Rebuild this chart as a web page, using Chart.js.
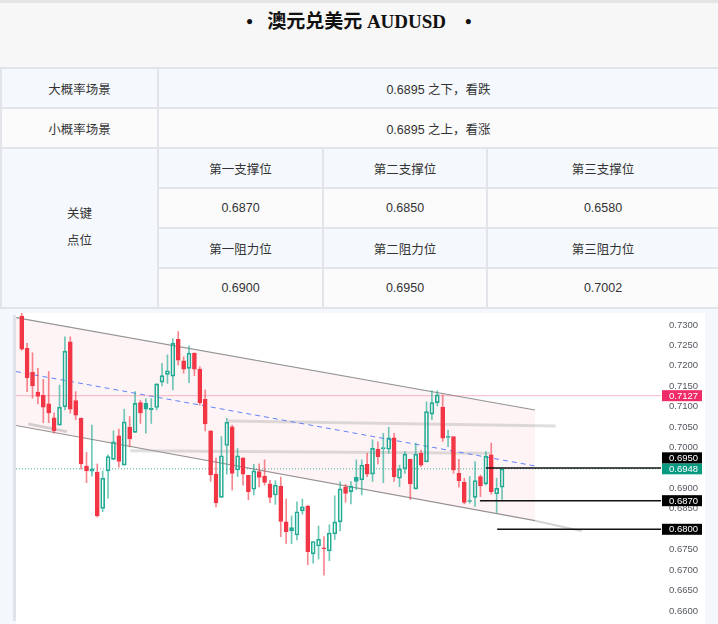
<!DOCTYPE html>
<html>
<head>
<meta charset="utf-8">
<script src="https://cdn.jsdelivr.net/npm/chart.js@4.4.1/dist/chart.umd.min.js"></script>
<style>
html,body{margin:0;padding:0;}
body{width:718px;height:624px;position:relative;overflow:hidden;background:#fff;font-family:"Liberation Sans","Noto Sans CJK SC",sans-serif;color:#333;}
.cell{position:absolute;box-sizing:border-box;display:flex;align-items:center;justify-content:center;text-align:center;font-size:12.5px;border-top:2px solid #e1e5ea;border-left:2px solid #e1e5ea;}
.hd{background:#f5f9fd;}
.lt{background:#fbfbfc;}
#title{position:absolute;left:0;top:0;width:718px;height:67px;background:#f7f7f7;border-top:3px solid #e4e4e4;box-sizing:border-box;text-align:center;font:bold 19px "Liberation Serif","Noto Sans CJK SC",serif;color:#111;padding-top:7px;line-height:24px;white-space:pre;}
#chartbox{position:absolute;left:0;top:307px;width:718px;height:317px;background:#f4f7fb;border-top:2px solid #e1e5ea;box-sizing:border-box;}
#plotbg{position:absolute;left:16px;top:313px;width:689px;height:311px;background:#fff;}
#leftbar{position:absolute;left:13px;top:315px;width:3px;height:306px;background:#e0e3ea;}
#chart{position:absolute;left:16px;top:313px;}
</style>
</head>
<body>
<div id="title">•   澳元兑美元 AUDUSD    •</div>

<div class="cell hd" style="left:0;top:67px;width:157px;height:40px;">大概率场景</div>
<div class="cell hd" style="left:157px;top:67px;width:561px;height:40px;">0.6895 之下，看跌</div>
<div class="cell lt" style="left:0;top:107px;width:157px;height:40px;">小概率场景</div>
<div class="cell lt" style="left:157px;top:107px;width:561px;height:40px;">0.6895 之上，看涨</div>

<div class="cell hd" style="left:0;top:147px;width:157px;height:160px;line-height:27px;">关键<br>点位</div>
<div class="cell hd" style="left:157px;top:147px;width:165px;height:40px;">第一支撑位</div>
<div class="cell hd" style="left:322px;top:147px;width:164px;height:40px;">第二支撑位</div>
<div class="cell hd" style="left:486px;top:147px;width:232px;height:40px;">第三支撑位</div>
<div class="cell lt" style="left:157px;top:187px;width:165px;height:40px;">0.6870</div>
<div class="cell lt" style="left:322px;top:187px;width:164px;height:40px;">0.6850</div>
<div class="cell lt" style="left:486px;top:187px;width:232px;height:40px;">0.6580</div>
<div class="cell hd" style="left:157px;top:227px;width:165px;height:40px;">第一阻力位</div>
<div class="cell hd" style="left:322px;top:227px;width:164px;height:40px;">第二阻力位</div>
<div class="cell hd" style="left:486px;top:227px;width:232px;height:40px;">第三阻力位</div>
<div class="cell lt" style="left:157px;top:267px;width:165px;height:40px;">0.6900</div>
<div class="cell lt" style="left:322px;top:267px;width:164px;height:40px;">0.6950</div>
<div class="cell lt" style="left:486px;top:267px;width:232px;height:40px;">0.7002</div>

<div id="chartbox"></div>
<div id="plotbg"></div>
<div id="leftbar"></div>
<canvas id="chart" width="689" height="311"></canvas>

<script>
// daily candles, AUDUSD
const opens = [0.7322,0.7243,0.7185,0.7136,0.7128,0.7107,0.7073,0.7055,0.7100,0.7259,
  0.7115,0.7072,0.6955,0.6942,0.6940,0.6851,0.6943,0.6971,0.7029,0.6957,
  0.7050,0.7037,0.7110,0.7108,0.7093,0.7098,0.7160,0.7179,0.7175,0.7265,
  0.7212,0.7194,0.7231,0.7192,0.7118,0.7041,0.6935,0.6878,0.7005,0.7051,
  0.6945,0.6975,0.6932,0.6898,0.6941,0.6930,0.6911,0.6884,0.6906,0.6818,
  0.6804,0.6786,0.6845,0.6857,0.6740,0.6759,0.6754,0.6747,0.6789,0.6818,
  0.6903,0.6892,0.6927,0.6921,0.6959,0.6935,0.6996,0.6997,0.6996,0.7024,
  0.6925,0.6948,0.6971,0.6899,0.6986,0.6965,0.7082,0.7110,0.7099,0.7025,
  0.7027,0.6937,0.6915,0.6870,0.6878,0.6929,0.6911,0.6982,0.6887,0.6903];
const highs = [0.7330,0.7255,0.7232,0.7194,0.7167,0.7186,0.7085,0.7153,0.7271,0.7271,
  0.7137,0.7072,0.6988,0.7055,0.6960,0.6943,0.6982,0.7041,0.7045,0.7094,
  0.7076,0.7137,0.7116,0.7120,0.7120,0.7156,0.7206,0.7227,0.7267,0.7284,
  0.7222,0.7249,0.7232,0.7198,0.7141,0.7041,0.6974,0.7027,0.7072,0.7055,
  0.6998,0.6975,0.6932,0.6959,0.6960,0.6970,0.6920,0.6919,0.6928,0.6874,
  0.6833,0.6867,0.6874,0.6859,0.6770,0.6808,0.6782,0.6811,0.6882,0.6916,
  0.6910,0.6917,0.6970,0.6970,0.6986,0.7019,0.7014,0.7035,0.7050,0.7035,
  0.6957,0.6990,0.6972,0.7011,0.6994,0.7112,0.7139,0.7139,0.7129,0.7043,
  0.7027,0.6971,0.6925,0.6929,0.6966,0.6933,0.6990,0.7011,0.6925,0.6947];
const lows = [0.7238,0.7137,0.7121,0.7107,0.7061,0.7061,0.7035,0.7055,0.7092,0.7084,
  0.7068,0.6947,0.6914,0.6930,0.6830,0.6843,0.6876,0.6970,0.6952,0.6957,
  0.7002,0.7037,0.7059,0.7035,0.7059,0.7092,0.7151,0.7157,0.7141,0.7202,
  0.7182,0.7159,0.7176,0.7104,0.7041,0.6917,0.6855,0.6878,0.6935,0.6896,
  0.6929,0.6908,0.6872,0.6884,0.6904,0.6908,0.6865,0.6861,0.6782,0.6765,
  0.6765,0.6774,0.6837,0.6713,0.6717,0.6727,0.6688,0.6723,0.6775,0.6796,
  0.6866,0.6862,0.6897,0.6884,0.6929,0.6917,0.6960,0.6914,0.6986,0.6917,
  0.6904,0.6937,0.6873,0.6898,0.6953,0.6965,0.7068,0.7102,0.7015,0.7002,
  0.6937,0.6903,0.6862,0.6864,0.6856,0.6880,0.6908,0.6886,0.6841,0.6873];
const closes = [0.7241,0.7171,0.7151,0.7125,0.7099,0.7085,0.7041,0.7099,0.7236,0.7094,
  0.7079,0.6960,0.6943,0.6948,0.6833,0.6925,0.6978,0.7014,0.6966,0.7063,
  0.7021,0.7108,0.7085,0.7094,0.7096,0.7156,0.7176,0.7188,0.7255,0.7214,
  0.7192,0.7231,0.7192,0.7110,0.7058,0.6933,0.6865,0.6980,0.7062,0.6937,
  0.6980,0.6935,0.6892,0.6943,0.6927,0.6915,0.6878,0.6908,0.6819,0.6794,
  0.6796,0.6843,0.6855,0.6745,0.6770,0.6776,0.6752,0.6791,0.6818,0.6899,
  0.6888,0.6905,0.6917,0.6957,0.6935,0.6998,0.6978,0.7000,0.7024,0.6929,
  0.6948,0.6984,0.6911,0.6984,0.6957,0.7088,0.7110,0.7129,0.7023,0.7027,
  0.6945,0.6919,0.6866,0.6868,0.6919,0.6906,0.6979,0.6892,0.6900,0.6948];

const yTicks = [0.6600,0.6650,0.6700,0.6750,0.6800,0.6850,0.6900,0.6950,0.7000,0.7050,0.7100,0.7150,0.7200,0.7250,0.7300];

// drawings (x = candle index)
const channelX = [-1.06, 95.11];
const channelUpper = [0.7318, 0.7092];
const channelLower = [0.7054, 0.6821];
const channelMid = [0.7186, 0.6955];
const lowerExtX = [95.11, 103.76];
const lowerExtY = [0.6821, 0.6796];
const leftBandX = [1.2, 8.4];
const leftBandY = [0.7058, 0.7039];
const midBandX = [20.1, 86.8];
const midBandY = [0.6992, 0.6986];
const topBandX = [38.2, 98.9];
const topBandY = [0.7065, 0.7053];
const keyLevels = [0.6950, 0.6870, 0.6800];
const keyStarts = [86.0, 84.9, 88.1];
const markPrice = 0.7127;
const lastPrice = 0.6948;

const X_MIN = -1.06, X_MAX = 118.45;
const RED = '#f23645', GREEN = '#22ab94';
const RED_WICK = 'rgba(242,54,69,0.6)', GREEN_WICK = 'rgba(34,171,148,0.65)';

const isUp = i => closes[i] >= (i ? closes[i-1] : opens[i]);
const idx = opens.map((_, i) => i);
const seg = (xs, ys) => xs.map((x, k) => ({x: x, y: ys[k]}));

const candleColors = idx.map(i => isUp(i) ? GREEN : RED);
const wickColors = idx.map(i => isUp(i) ? GREEN_WICK : RED_WICK);

const lineDs = (data, color, width, extra) => Object.assign({
  type: 'line', data: data, borderColor: color, borderWidth: width,
  pointRadius: 0, fill: false, tension: 0
}, extra || {});

const datasets = [
  // wicks
  { type: 'bar', data: idx.map(i => ({x: i, y: [Math.max(opens[i], closes[i]), highs[i]]})),
    backgroundColor: wickColors, barThickness: 1, grouped: false, order: 2 },
  { type: 'bar', data: idx.map(i => ({x: i, y: [lows[i], Math.min(opens[i], closes[i])]})),
    backgroundColor: wickColors, barThickness: 1, grouped: false, order: 2 },
  // bodies (hollow when close > open)
  { type: 'bar', data: idx.map(i => ({x: i, y: [opens[i], closes[i]]})),
    backgroundColor: idx.map(i => closes[i] > opens[i] ? 'rgba(0,0,0,0)' : candleColors[i]),
    borderColor: candleColors, borderWidth: 1, borderSkipped: false, barThickness: 4,
    minBarLength: 1, grouped: false, order: 1 },
  // channel
  lineDs(seg(channelX, channelUpper), '#949494', 1.2, {fill: '+1', backgroundColor: 'rgba(242,54,69,0.055)', order: 5}),
  lineDs(seg(channelX, channelLower), '#949494', 1.2, {order: 5}),
  lineDs(seg(lowerExtX, lowerExtY), 'rgba(170,170,170,0.5)', 2, {order: 5}),
  lineDs(seg(channelX, channelMid), 'rgba(70,110,250,0.85)', 1, {borderDash: [5, 4], order: 4}),
  // grey zones
  lineDs(seg(leftBandX, leftBandY), 'rgba(160,160,160,0.45)', 3, {order: 4}),
  lineDs(seg(midBandX, midBandY), 'rgba(160,160,160,0.35)', 3, {order: 4}),
  lineDs(seg(topBandX, topBandY), 'rgba(160,160,160,0.35)', 3, {order: 4}),
  // price lines
  lineDs(seg([X_MIN, X_MAX], [markPrice, markPrice]), 'rgba(242,80,120,0.4)', 1, {order: 3}),
  lineDs(seg([X_MIN, X_MAX], [lastPrice, lastPrice]), 'rgba(8,153,129,0.75)', 1, {borderDash: [1, 2], order: 3})
];
keyLevels.forEach((v, k) => {
  datasets.push(lineDs(seg([keyStarts[k], X_MAX], [v, v]), '#111', 1.5, {order: 0}));
});

const levelTags = {
  id: 'levelTags',
  afterDraw(chart) {
    const {ctx, chartArea, scales} = chart;
    const y = scales.y;
    const tags = [[lastPrice, '#089981'], [markPrice, '#ef2b68']].concat(keyLevels.map(v => [v, '#000']));
    const placed = [];
    const h = 11;
    ctx.save();
    ctx.font = '9.5px "Liberation Sans", Arial, sans-serif';
    ctx.textBaseline = 'middle';
    ctx.textAlign = 'left';
    tags.forEach(([v, c]) => {
      let top = y.getPixelForValue(v) - h / 2;
      placed.forEach(p => { if (top < p + h && top + h > p) top = p - h; });
      placed.push(top);
      ctx.fillStyle = c;
      ctx.fillRect(chartArea.right + 1, top, 40, h);
      ctx.fillStyle = '#fff';
      ctx.fillText(v.toFixed(4), chartArea.right + 8, top + h / 2 + 0.5);
    });
    ctx.restore();
  }
};

new Chart(document.getElementById('chart'), {
  type: 'bar',
  data: { datasets: datasets },
  options: {
    responsive: false, animation: false, devicePixelRatio: 1,
    layout: { padding: 0 },
    plugins: { legend: { display: false }, tooltip: { enabled: false } },
    scales: {
      x: { type: 'linear', min: X_MIN, max: X_MAX, offset: false, display: false },
      y: {
        type: 'linear', position: 'right', min: 0.656818, max: 0.732937,
        grid: { display: false, drawTicks: false }, border: { display: false },
        afterBuildTicks: s => { s.ticks = yTicks.map(v => ({value: v})); },
        afterFit: s => { s.width = 44; s.paddingTop = 0; s.paddingBottom = 0; },
        ticks: { padding: 8, color: '#555861', font: { size: 9.5, family: '"Liberation Sans", Arial, sans-serif' },
          callback: v => v.toFixed(4) }
      }
    }
  },
  plugins: [levelTags]
});
</script>
</body>
</html>
